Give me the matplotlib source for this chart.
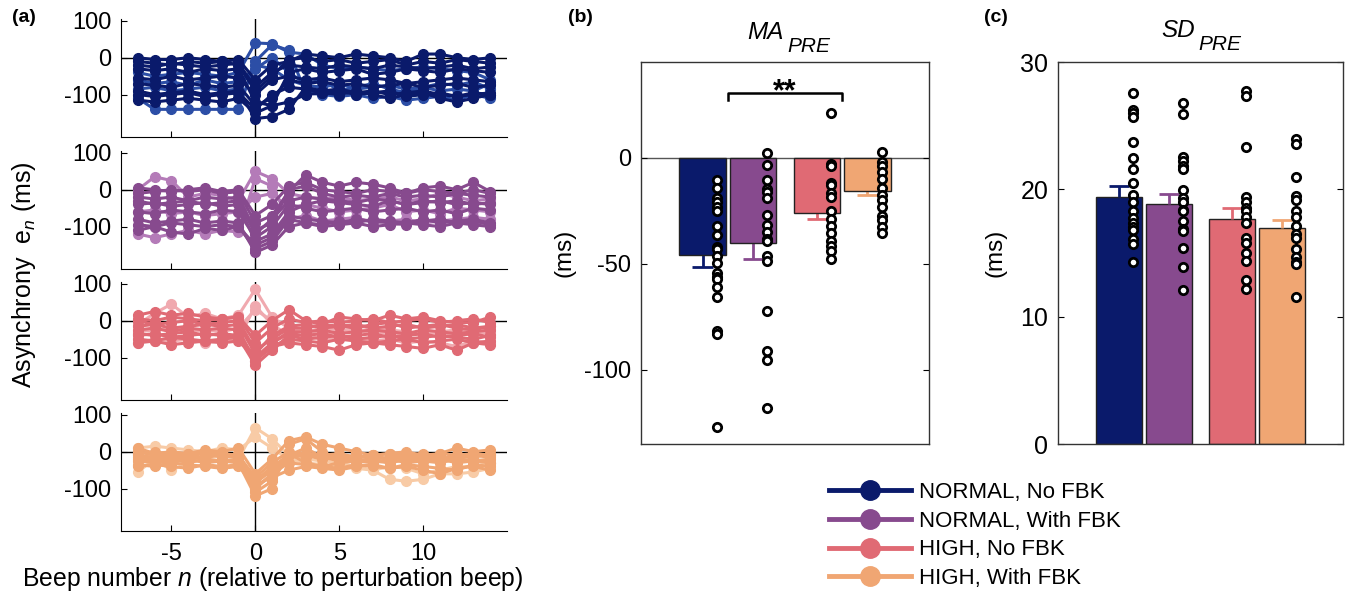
import numpy as np
import matplotlib.pyplot as plt
from matplotlib.lines import Line2D

plt.rcParams['font.family'] = ['Liberation Sans', 'DejaVu Sans']
plt.rcParams['mathtext.fontset'] = 'custom'
plt.rcParams['mathtext.rm'] = 'Liberation Sans'
plt.rcParams['mathtext.it'] = 'Liberation Sans:italic'
plt.rcParams['axes.unicode_minus'] = False

# ---- data ----
beeps = np.arange(-7, 15)
conditions = ['NORMAL, No FBK', 'NORMAL, With FBK', 'HIGH, No FBK', 'HIGH, With FBK']
dark = ['#0A1A6B', '#874A8E', '#E06A74', '#F0A673']
light = ['#2C4EA6', '#B47BB8', '#F0A9AF', '#F8CBA6']

# individual asynchrony traces (ms), light = lighter shade participants
nnf_light = [
    [-110, -140, -140, -140, -140, -140, -140, -10, 35, 20, -95, -100, -105, -100, -110, -105, -115, -110, -105, -115, -100, -110],
    [-40, -50, -45, -40, -45, -50, -40, 40, 38, 15, 10, -20, -30, -25, -30, -35, -30, -25, -30, -35, -40, -60],
    [-60, -70, -65, -75, -60, -70, -65, -30, 0, -40, -70, -60, -90, -80, -70, -85, -95, -80, -90, -85, -90, -70],
    [-85, -80, -90, -85, -80, -90, -85, -20, -30, -60, -75, -80, -70, -85, -80, -75, -85, -80, -70, -75, -65, -85],
]
nnf_dark = [
    [0, -5, -5, 0, -5, -10, -5, -60, -20, -10, 10, 5, 0, 10, 5, 0, -10, 10, 10, 0, -5, 0],
    [-30, -35, -30, -40, -30, -35, -30, -120, -130, -40, -30, -40, -35, -30, -45, -40, -30, -35, -40, -30, -35, -40],
    [-90, -100, -95, -90, -100, -95, -90, -165, -160, -140, -80, -90, -85, -95, -90, -100, -95, -90, -100, -105, -95, -100],
    [-115, -120, -115, -110, -115, -120, -110, -150, -130, -120, -100, -95, -100, -90, -100, -110, -100, -95, -110, -120, -110, -100],
    [-55, -60, -50, -60, -55, -50, -55, -100, -60, -50, -60, -55, -65, -60, -55, -60, -70, -65, -60, -55, -60, -65],
    [-20, -25, -15, -20, -25, -20, -15, -80, -40, -20, -25, -30, -20, -25, -30, -20, -25, -30, -25, -20, -30, -25],
    [-70, -75, -80, -70, -75, -80, -75, -130, -110, -60, -70, -65, -75, -70, -80, -75, -70, -80, -75, -70, -80, -75],
    [-10, -15, -20, -10, -15, -10, -20, -90, -50, -5, 0, -10, -5, -15, -10, -5, -20, -10, -15, -5, -10, -15],
    [-100, -105, -100, -95, -105, -100, -95, -140, -100, -80, -85, -95, -90, -100, -95, -90, -105, -100, -95, -105, -100, -95],
]
nwf_light = [
    [0, 35, 25, -20, -10, -15, -30, 50, 30, -10, -20, -25, -20, -30, -25, -20, -30, -25, -10, -20, -30, -25],
    [-120, -130, -120, -110, -120, -110, -115, 30, 10, -80, -70, -85, -80, -75, -90, -85, -80, -90, -85, -80, -75, -80],
    [-60, -55, -65, -60, -70, -65, -60, -20, -10, -50, -40, -50, -60, -55, -50, -40, -60, -55, -65, -50, -55, -60],
]
nwf_dark = [
    [-10, -5, 0, -5, 0, -10, -5, -90, -70, -5, 40, 20, 10, 20, 15, 5, -10, 5, 10, 0, 20, -5],
    [-40, -35, -45, -40, -35, -45, -40, -140, -120, -60, -40, -30, -35, -40, -45, -30, -40, -35, -30, -40, -35, -40],
    [-80, -90, -85, -80, -90, -85, -90, -170, -150, -100, -90, -100, -95, -90, -100, -95, -90, -95, -100, -90, -95, -100],
    [-110, -100, -115, -120, -105, -110, -100, -160, -140, -80, -90, -95, -85, -90, -80, -85, -90, -80, -90, -85, -80, -90],
    [-20, -25, -20, -30, -20, -25, -20, -110, -90, 0, 10, -10, -20, -15, -20, -10, -20, -15, -20, -10, -15, -20],
    [-60, -65, -55, -60, -65, -55, -60, -130, -100, -40, -50, -60, -55, -50, -60, -55, -50, -60, -55, -65, -50, -55],
    [-95, -100, -90, -95, -100, -95, -100, -150, -130, -70, -80, -85, -90, -80, -85, -90, -95, -85, -80, -90, -85, -95],
    [5, 0, -5, 0, 5, -5, 0, -70, -40, 10, 20, 0, -5, -10, 0, -5, -10, 0, -5, -10, 0, -10],
    [-30, -40, -35, -30, -40, -35, -30, -120, -80, -30, -20, -25, -30, -35, -25, -30, -40, -30, -35, -30, -40, -35],
]
hnf_light = [
    [-10, 20, 45, 10, 20, 5, 15, 85, 10, -20, -30, -20, -25, -30, -20, -25, -30, -35, -30, -25, -30, -35],
    [-60, -50, -55, -50, -60, -55, -50, 40, -10, -40, -40, -50, -45, -50, -55, -50, -60, -55, -60, -70, -55, -60],
    [-30, -25, -20, -30, -25, -30, -20, 30, 0, -10, -30, -35, -30, -25, -35, -30, -40, -35, -30, -40, -35, -30],
]
hnf_dark = [
    [15, 25, 15, 20, 10, 5, 10, -40, 0, 30, 0, -10, 10, 5, 0, 15, 5, 10, 0, -5, -5, 10],
    [-40, -35, -45, -40, -35, -40, -45, -120, -80, -40, -50, -45, -40, -50, -45, -40, -50, -45, -40, -45, -50, -40],
    [-60, -55, -65, -60, -55, -60, -55, -100, -70, -60, -65, -70, -80, -65, -60, -65, -70, -75, -65, -80, -60, -65],
    [0, -10, -5, 0, -10, -5, 0, -80, -50, -20, -20, -10, -15, -20, -10, -5, -20, -15, -10, -20, -25, -15],
    [-25, -20, -30, -20, -25, -20, -25, -110, -60, -30, -30, -25, -35, -30, -25, -30, -35, -25, -30, -35, -30, -25],
    [-15, -10, -20, -15, -10, -15, -10, -90, -40, -15, -10, -20, -15, -10, -20, -15, -10, -20, -15, -10, -20, -15],
    [-50, -55, -45, -50, -55, -50, -45, -110, -70, -50, -55, -60, -50, -55, -60, -55, -50, -60, -55, -50, -60, -55],
    [-35, -40, -35, -30, -40, -35, -40, -100, -60, -35, -40, -35, -45, -40, -35, -45, -40, -35, -45, -40, -35, -45],
    [5, 0, 10, 5, 0, 5, 10, -60, -20, 5, -5, 0, -5, 0, 5, -5, 0, 5, -5, 0, 5, -5],
]
hwf_light = [
    [-55, -20, -50, -30, -20, -25, -20, 65, 35, -10, -20, -25, -30, -40, -50, -75, -80, -75, -60, -60, -55, -45],
    [10, 15, 10, 5, 0, 10, 5, 40, 10, -20, -30, -35, -40, -45, -50, -40, -45, -60, -50, -40, -40, -30],
]
hwf_dark = [
    [10, -5, 0, -5, 5, 0, 10, -60, -20, 30, 40, 20, 10, 0, -10, -5, 0, -10, -5, 10, 0, 5],
    [-20, -25, -20, -30, -20, -25, -30, -120, -100, 20, 35, 0, -20, -25, -30, -20, -30, -25, -20, -30, -25, -20],
    [-35, -40, -30, -35, -40, -45, -40, -90, -70, -50, -40, -45, -50, -40, -35, -45, -40, -50, -60, -45, -40, -50],
    [0, -10, -15, -10, -5, -15, -10, -80, -40, -10, -10, -20, -15, -10, -20, -15, -10, -5, -20, -10, -15, -5],
    [-15, -20, -15, -20, -15, -10, -15, -100, -60, -5, -30, -40, -30, -25, -20, -30, -20, -15, -20, -25, -20, -30],
    [-5, 0, -10, -5, 0, -5, -10, -70, -30, 0, -5, -10, -5, -15, -10, -5, -10, -15, -5, -10, -5, -10],
    [-25, -30, -25, -20, -30, -25, -20, -110, -80, -10, 10, -15, -25, -20, -25, -30, -20, -25, -30, -20, -25, -30],
    [-40, -35, -40, -45, -35, -40, -35, -100, -60, -30, -35, -40, -45, -35, -40, -45, -35, -40, -45, -50, -35, -40],
    [-10, -15, -5, -10, -15, -5, -10, -85, -50, -5, -15, -10, -20, -15, -10, -20, -15, -10, -15, -20, -10, -15],
]
traces_light = [nnf_light, nwf_light, hnf_light, hwf_light]
traces_dark = [nnf_dark, nwf_dark, hnf_dark, hwf_dark]

# MA_PRE (ms)
ma_mean = [-46, -40.5, -26, -16]
ma_sem = [5.5, 7.5, 3.2, 1.8]
ma_points = [
    [-10.5, -14.6, -19.3, -20.9, -23.4, -25, -32.5, -36.5, -42, -43.2, -46.4, -49.8, -54.6, -56.1, -57.4, -61.2, -65.9, -81.8, -83.3, -126.9],
    [2, -3.6, -10.7, -14.8, -16.2, -19.3, -27, -31.8, -35.2, -38.5, -39.2, -46.4, -48.6, -72.2, -91.2, -95.4, -117.9],
    [20.9, -3.1, -3.9, -11.8, -13, -16.8, -18.7, -25, -28.8, -32.5, -35.7, -39.2, -41.7, -43.9, -47.6],
    [2.7, -1.9, -4.2, -6.8, -10.2, -14.6, -17.5, -20, -23.4, -27.5, -29.4, -32.9, -35.4],
]
# SD_PRE (ms)
sd_mean = [19.4, 18.86, 17.68, 16.98]
sd_sem = [0.85, 0.8, 0.87, 0.62]
sd_points = [
    [27.54, 26.26, 26.03, 25.69, 23.72, 22.44, 21.63, 20.53, 19.54, 19.02, 18.31, 17.71, 17.37, 17.05, 16.79, 16.11, 15.73, 14.31],
    [26.81, 25.95, 22.57, 22.26, 21.84, 21.63, 19.98, 19.3, 18.99, 18.41, 18.31, 17.53, 16.85, 16.69, 15.43, 13.89, 12.08],
    [27.73, 27.31, 23.36, 19.36, 19.04, 18.57, 18.26, 17.79, 17.32, 16.17, 15.8, 15.01, 14.39, 12.87, 12.19],
    [23.96, 23.54, 20.95, 19.49, 19.15, 18.31, 17.79, 17.11, 16.53, 16.17, 15.33, 14.7, 14.33, 14.1, 11.56],
]

bar_x = np.array([1, 2, 3.27, 4.27])

fig = plt.figure(figsize=(13.49, 5.98), dpi=100)
W, H = 1349, 598

def px_axes(left, top, right, bottom):
    return fig.add_axes([left / W, 1 - bottom / H, (right - left) / W, (bottom - top) / H])

# ---- panel (a) ----
tops = [19, 151, 282, 413]
axs_a = []
for i in range(4):
    ax = px_axes(121, tops[i], 507, tops[i] + 118)
    for tr in traces_light[i]:
        ax.plot(beeps, tr, '-o', color=light[i], lw=2.2, ms=7)
    for tr in traces_dark[i]:
        ax.plot(beeps, tr, '-o', color=dark[i], lw=2.2, ms=7)
    ax.axhline(0, color='k', lw=1, zorder=0.5)
    ax.axvline(0, color='k', lw=1, zorder=0.5)
    ax.set_xlim(-8, 15)
    ax.set_ylim(-215, 105)
    ax.set_yticks([-100, 0, 100])
    ax.set_xticks([-5, 0, 5, 10])
    ax.spines['top'].set_visible(False)
    ax.spines['right'].set_visible(False)
    ax.tick_params(direction='in', labelsize=17, length=4, pad=7)
    if i < 3:
        ax.set_xticklabels([])
    axs_a.append(ax)
axs_a[3].tick_params(axis='x', pad=9)
fig.text(273 / W, 1 - 579 / H, r'Beep number $n$ (relative to perturbation beep)', fontsize=17.8,
         ha='center', va='center')
fig.text(24 / W, 1 - 275 / H, r'Asynchrony  $\mathrm{e}_{n}$ (ms)', rotation=90,
         fontsize=18, ha='center', va='center')

# ---- panels (b) and (c) ----
def bar_panel(ax, means, sems, points, sign):
    ax.bar(bar_x, means, width=0.92, color=dark, edgecolor='#222222', lw=1, zorder=2)
    ends = np.array(means) + sign * np.array(sems)
    ax.vlines(bar_x, means, ends, colors=dark, lw=2, zorder=1.5 if sign < 0 else 3)
    ax.hlines(ends, bar_x - 0.2, bar_x + 0.2, colors=dark, lw=2, zorder=3)
    for k in range(4):
        ax.plot(np.full(len(points[k]), bar_x[k] + 0.28), points[k], 'o', ms=6,
                mfc='white', mec='black', mew=2, zorder=4)
    ax.set_xlim(-0.22, 5.49)
    ax.set_xticks([])
    ax.tick_params(axis='y', direction='in', right=True, labelsize=17, length=4, pad=7)
    for s in ax.spines.values():
        s.set_color('#333333')
        s.set_linewidth(1)

def sub_title(ax, main, sub, x_main, y_main, x_sub, y_sub):
    ax.text(x_main, y_main, main, transform=ax.transAxes, fontsize=17.5, style='italic',
            ha='right', va='baseline')
    ax.text(x_sub, y_sub, sub, transform=ax.transAxes, fontsize=15, style='italic',
            ha='left', va='baseline')

ax_b = px_axes(641, 62, 929, 444)
bar_panel(ax_b, ma_mean, ma_sem, ma_points, -1)
ax_b.axhline(0, color='#555555', lw=1, zorder=1)
ax_b.set_ylim(-135, 45)
ax_b.set_yticks([-100, -50, 0])
ax_b.set_ylabel('(ms)', fontsize=17.5, labelpad=6)
sub_title(ax_b, 'MA', 'PRE', 0.4965, 1.060, 0.507, 1.026)
bx = [1.5, 1.5, 3.77, 3.77]
by = [27, 30.2, 30.2, 27]
ax_b.plot(bx, by, color='k', lw=1.8)
ax_b.text(2.635, 27, '**', fontsize=22, ha='center', va='baseline', fontweight='bold')

ax_c = px_axes(1058, 62, 1343, 444)
bar_panel(ax_c, sd_mean, sd_sem, sd_points, 1)
ax_c.set_ylim(0, 30)
ax_c.set_yticks([0, 10, 20, 30])
ax_c.tick_params(axis='y', labelsize=18)
ax_c.set_ylabel('(ms)', fontsize=17.5, labelpad=10)
sub_title(ax_c, 'SD', 'PRE', 0.4807, 1.066, 0.491, 1.031)

# panel letters
fig.text(24 / W, 1 - 18 / H, '(a)', fontsize=14, fontweight='bold', ha='center', va='center')
fig.text(580 / W, 1 - 18 / H, '(b)', fontsize=14, fontweight='bold', ha='center', va='center')
fig.text(996 / W, 1 - 18 / H, '(c)', fontsize=14, fontweight='bold', ha='center', va='center')

# legend
handles = [Line2D([0], [0], color=c, lw=3.5, marker='o', ms=14) for c in dark]
fig.legend(handles, conditions, loc='upper left', bbox_to_anchor=(820 / W, 1 - 473 / H),
           frameon=False, fontsize=16, handlelength=3.7, handletextpad=0.35,
           labelspacing=0.35, borderaxespad=0)

fig.savefig('out.png', dpi=100, facecolor='white')
